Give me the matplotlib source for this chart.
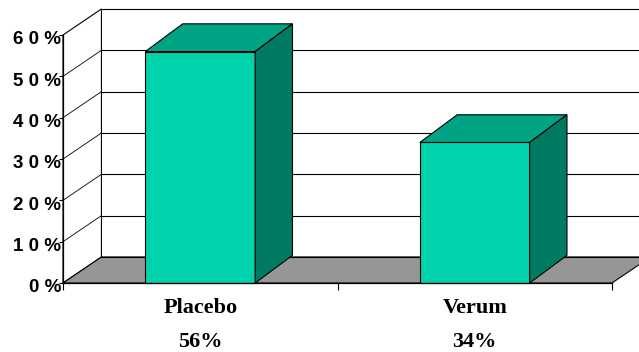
import numpy as np
import matplotlib
matplotlib.use('Agg')
from matplotlib import pyplot as plt
from matplotlib.patches import Polygon
from matplotlib.transforms import ScaledTranslation

# values
groups = ['Placebo', 'Verum']
shares = [56, 34]
y_ticks = [0, 10, 20, 30, 40, 50, 60]

# colours
front_col = '#00d3ab'
top_col = '#00a383'
side_col = '#007a60'
floor_col = '#969696'

# 3d look (data units)
wall_dx, wall_dy = 0.14, 6.3
bar_dx, bar_dy = 0.136, 6.7
bar_w = 0.4

fig = plt.figure(figsize=(6.39, 3.52), dpi=100)
ax = fig.add_axes([63 / 639, 69 / 352, 549 / 639, 248 / 352])
ax.set_xlim(0, 2)
ax.set_ylim(0, 60)
ax.set_facecolor('none')
for s in ['top', 'right']:
    ax.spines[s].set_visible(False)
for s in ['left', 'bottom']:
    ax.spines[s].set_linewidth(0.9)
    ax.spines[s].set_zorder(6)

ymax = y_ticks[-1]
far = 2 + wall_dx + 0.2  # runs past the right edge of the figure

def poly(pts, fc, ec='black', lw=0.8, z=1):
    ax.add_patch(Polygon(pts, closed=True, facecolor=fc, edgecolor=ec,
                         linewidth=lw, zorder=z, clip_on=False))

# side wall and back wall
poly([(0, 0), (wall_dx, wall_dy), (wall_dx, ymax + wall_dy), (0, ymax)], 'white', z=1)
ax.plot([wall_dx, far], [ymax + wall_dy] * 2, color='black', lw=0.8, zorder=1, clip_on=False)

# gridlines on both walls
for v in y_ticks[1:-1]:
    ax.plot([wall_dx, far], [v + wall_dy] * 2, color='black', lw=0.8, zorder=1, clip_on=False)
    ax.plot([0, wall_dx], [v, v + wall_dy], color='black', lw=0.6, zorder=1, clip_on=False)

# floor
poly([(0, 0), (2, 0), (2 + wall_dx, wall_dy), (wall_dx, wall_dy)], floor_col, z=2)
ax.plot([wall_dx, far], [wall_dy] * 2, color='black', lw=0.8, zorder=2, clip_on=False)

# bars
for i, v in enumerate(shares):
    x0 = i + 0.5 - bar_w / 2
    x1 = x0 + bar_w
    poly([(x0, 0), (x1, 0), (x1, v), (x0, v)], front_col, z=3)
    poly([(x0, v), (x1, v), (x1 + bar_dx, v + bar_dy), (x0 + bar_dx, v + bar_dy)], top_col, z=3)
    poly([(x1, 0), (x1 + bar_dx, bar_dy), (x1 + bar_dx, v + bar_dy), (x1, v)], side_col, z=3)

# y axis labels
ax.set_yticks(y_ticks)
ax.set_yticklabels([' '.join(f'{v}%') for v in y_ticks],
                   fontfamily='Liberation Sans', fontweight='bold', fontsize=13.5)
ax.tick_params(axis='y', length=3, width=0.8, pad=-1.5, direction='out')
for lbl in ax.get_yticklabels():
    lbl.set_transform(lbl.get_transform() + ScaledTranslation(0, -3 / 100, fig.dpi_scale_trans))

# category axis
ax.set_xticks([0, 1, 2])
ax.set_xticklabels([])
ax.tick_params(axis='x', length=5, width=0.8, direction='out')
for i, (g, v) in enumerate(zip(groups, shares)):
    ax.annotate(g, (i + 0.5, 0), xytext=(0, -25), textcoords='offset pixels',
                ha='center', va='center', fontfamily='Liberation Serif',
                fontweight='bold', fontsize=16, annotation_clip=False)
    ax.annotate(f'{v}%', (i + 0.5, 0), xytext=(0, -59), textcoords='offset pixels',
                ha='center', va='center', fontfamily='Liberation Serif',
                fontweight='bold', fontsize=16, annotation_clip=False)

fig.savefig('out.png', dpi=100)
